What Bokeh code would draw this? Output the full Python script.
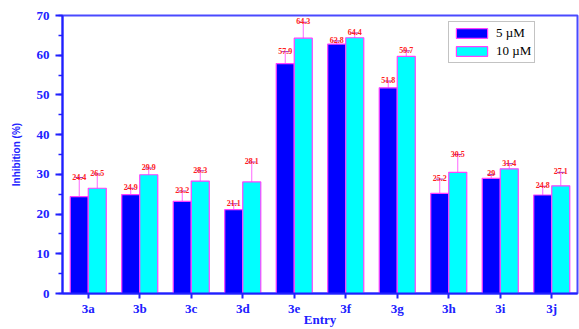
from bokeh.plotting import figure
from bokeh.models import (ColumnDataSource, FactorRange, Range1d, Whisker, Legend, LegendItem,
                          SingleIntervalTicker)
from bokeh.transform import dodge
from bokeh.core.properties import value
from bokeh.embed import file_html
from bokeh.resources import INLINE

entries = ["3a", "3b", "3c", "3d", "3e", "3f", "3g", "3h", "3i", "3j"]
inh_5uM = [24.4, 24.9, 23.2, 21.1, 57.9, 62.8, 51.8, 25.2, 29.0, 24.8]
err_5uM = [4.8, 1.6, 2.6, 1.5, 3.0, 0.8, 1.7, 3.6, 1.0, 2.2]
inh_10uM = [26.5, 29.9, 28.3, 28.1, 64.3, 64.4, 59.7, 30.5, 31.4, 27.1]
err_10uM = [3.6, 1.7, 2.6, 5.0, 4.0, 1.2, 1.4, 4.5, 1.3, 3.4]
series_labels = ["5 \u00b5M", "10 \u00b5M"]

src = ColumnDataSource(dict(
    cat=entries,
    v5=inh_5uM, lo5=[v - e for v, e in zip(inh_5uM, err_5uM)], hi5=[v + e for v, e in zip(inh_5uM, err_5uM)],
    t5=[f"{v:g}" for v in inh_5uM],
    v10=inh_10uM, lo10=[v - e for v, e in zip(inh_10uM, err_10uM)], hi10=[v + e for v, e in zip(inh_10uM, err_10uM)],
    t10=[f"{v:g}" for v in inh_10uM],
))

BLUE_AX = "#2020ff"
p = figure(width=579, height=329, output_backend="svg", toolbar_location=None,
           x_range=FactorRange(*entries, range_padding=0), y_range=Range1d(0, 70),
           min_border_left=62, min_border_right=2, min_border_top=15, min_border_bottom=35)
p.background_fill_color = "white"
p.border_fill_color = "white"
p.xgrid.visible = False
p.ygrid.visible = False
p.outline_line_color = "#4a4aff"
p.outline_line_width = 2

off = 0.175
bw = 0.35
r5 = p.vbar(x=dodge("cat", -off, range=p.x_range), top="v5", width=bw, source=src,
            fill_color="#0000ff", line_color="#ff40ff", line_width=1.2)
r10 = p.vbar(x=dodge("cat", off, range=p.x_range), top="v10", width=bw, source=src,
             fill_color="#00ffff", line_color="#ff40ff", line_width=1.2)

for o, lo, hi in [(-off, "lo5", "hi5"), (off, "lo10", "hi10")]:
    w = Whisker(source=src, base=dodge("cat", o, range=p.x_range), lower=lo, upper=hi,
                line_color="#ff66ff", line_width=1)
    w.upper_head.line_color = "#a030c0"
    w.lower_head.line_color = "#a030c0"
    w.upper_head.size = 8
    w.lower_head.size = 8
    p.add_layout(w)

for o, hi, t in [(-off, "hi5", "t5"), (off, "hi10", "t10")]:
    p.text(x=dodge("cat", o, range=p.x_range), y=hi, text=t, source=src,
           text_font=value("Liberation Serif"), text_font_style="bold", text_font_size="8px",
           text_color="#ff2020", text_align="center", text_baseline="bottom", y_offset=2)

# axes
for ax in (p.xaxis[0], p.yaxis[0]):
    ax.axis_line_color = BLUE_AX
    ax.axis_line_width = 2
    ax.major_tick_line_color = BLUE_AX
    ax.major_tick_line_width = 2
    ax.minor_tick_line_color = BLUE_AX
    ax.minor_tick_line_width = 1.5
    ax.major_tick_in = 0
    ax.minor_tick_in = 0
    ax.major_label_text_font = "Liberation Serif"
    ax.major_label_text_font_style = "bold"
    ax.major_label_text_font_size = "13px"
    ax.major_label_text_color = BLUE_AX
    ax.axis_label_text_color = BLUE_AX
    ax.axis_label_text_font_style = "bold"

p.yaxis.ticker = SingleIntervalTicker(interval=10, num_minor_ticks=2)
p.yaxis.major_tick_out = 7
p.yaxis.minor_tick_out = 4
p.yaxis.major_label_standoff = 6
p.yaxis.axis_label = "Inhibition (%)"
p.yaxis.axis_label_text_font = "Liberation Sans"
p.yaxis.axis_label_text_font_size = "10px"
p.yaxis.axis_label_standoff = 12

p.xaxis.major_tick_out = 5
p.xaxis.major_label_standoff = 2
p.xaxis.major_label_text_line_height = 0.8
p.xaxis.axis_label = "Entry"
p.xaxis.axis_label_text_font = "Liberation Serif"
p.xaxis.axis_label_text_font_size = "13px"
p.xaxis.axis_label_text_line_height = 0.8
p.xaxis.axis_label_standoff = -7

legend = Legend(items=[LegendItem(label=series_labels[0], renderers=[r5]),
                       LegendItem(label=series_labels[1], renderers=[r10])],
                location=(386, 230))
legend.label_text_font = "Liberation Serif"
legend.label_text_font_size = "13px"
legend.label_text_line_height = 0.75
legend.label_text_color = "black"
legend.glyph_width = 39
legend.glyph_height = 12
legend.label_height = 12
legend.label_standoff = 5
legend.spacing = 2
legend.padding = 3
legend.margin = 0
legend.border_line_color = "#888888"
legend.border_line_width = 1.5
legend.background_fill_alpha = 1
p.add_layout(legend)

open("out.html", "w").write(file_html(p, INLINE))
